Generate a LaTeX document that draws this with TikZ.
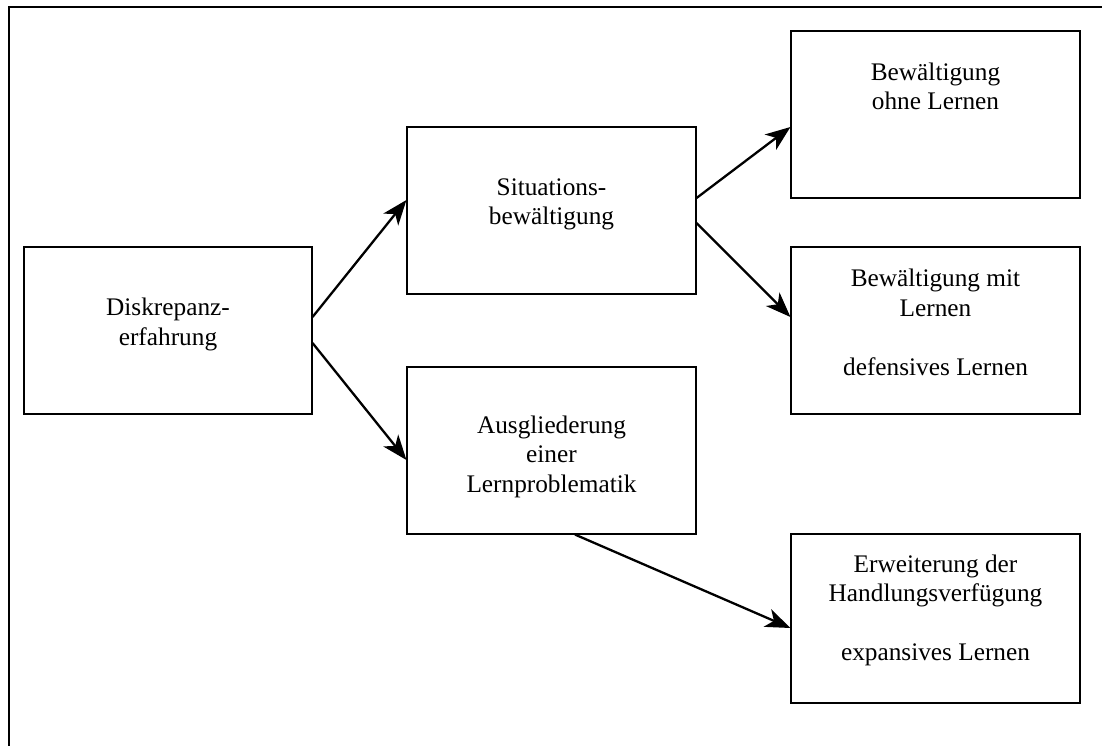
\documentclass[tikz,border=0pt]{standalone}
\usepackage{fontspec}
\setmainfont{Liberation Serif}
\usetikzlibrary{arrows.meta}
\begin{document}
\begin{tikzpicture}[x=1pt,y=-1pt,
  box/.style={draw, line width=1.1pt, minimum width=289pt, minimum height=167pt, inner sep=0pt},
  lbl/.style={align=center, font=\fontsize{25.3pt}{29.5pt}\selectfont, inner sep=0pt},
  arr/.style={line width=2.3pt, -{Stealth[length=25pt,width=19pt,inset=7pt]}},
  frameline/.style={line width=2pt}]
\useasboundingbox (0,0) rectangle (1102,745);
\coordinate (f1) at (1110,7);
\coordinate (f2) at (9,7);
\coordinate (f3) at (9,755);
\draw[frameline] (f1) -- (f2) -- (f3);
\node[box, minimum width=288pt] (d) at (168,330.5) {};
\node[box] (s) at (551.5,210.5) {};
\node[box] (a) at (551.5,450.5) {};
\node[box] (o) at (935.5,114.5) {};
\node[box] (m) at (935.5,330.5) {};
\node[box, minimum height=169pt] (e) at (935.5,618.5) {};
\node[lbl] (td) at ([yshift=6pt]d.center) {Diskrepanz-\\erfahrung};
\node[lbl] (ts) at ([yshift=6pt]s.center) {Situations-\\bewältigung};
\node[lbl] (ta) at ([yshift=-6pt]a.center) {Ausgliederung\\einer\\Lernproblematik};
\node[lbl] (to) at ([yshift=28pt]o.center) {Bewältigung\\ohne Lernen};
\node[lbl] (tm) at ([yshift=8pt]m.center) {Bewältigung mit\\Lernen\\[29.5pt]defensives Lernen};
\node[lbl] (te) at ([yshift=8pt]e.center) {Erweiterung der\\Handlungsverfügung\\[29.5pt]expansives Lernen};
\draw[arr] ([yshift=13.5pt]d.east) -- ([yshift=10.5pt]s.west);
\draw[arr] ([yshift=-12.5pt]d.east) -- ([yshift=-9.5pt]a.west);
\draw[arr] ([yshift=12.5pt]s.east) -- ([yshift=-12.5pt]o.west);
\draw[arr] ([yshift=-12.5pt]s.east) -- ([yshift=13.5pt]m.west);
\draw[arr] ([xshift=23.5pt]a.south) -- ([yshift=-9.5pt]e.west);
\end{tikzpicture}
\end{document}
